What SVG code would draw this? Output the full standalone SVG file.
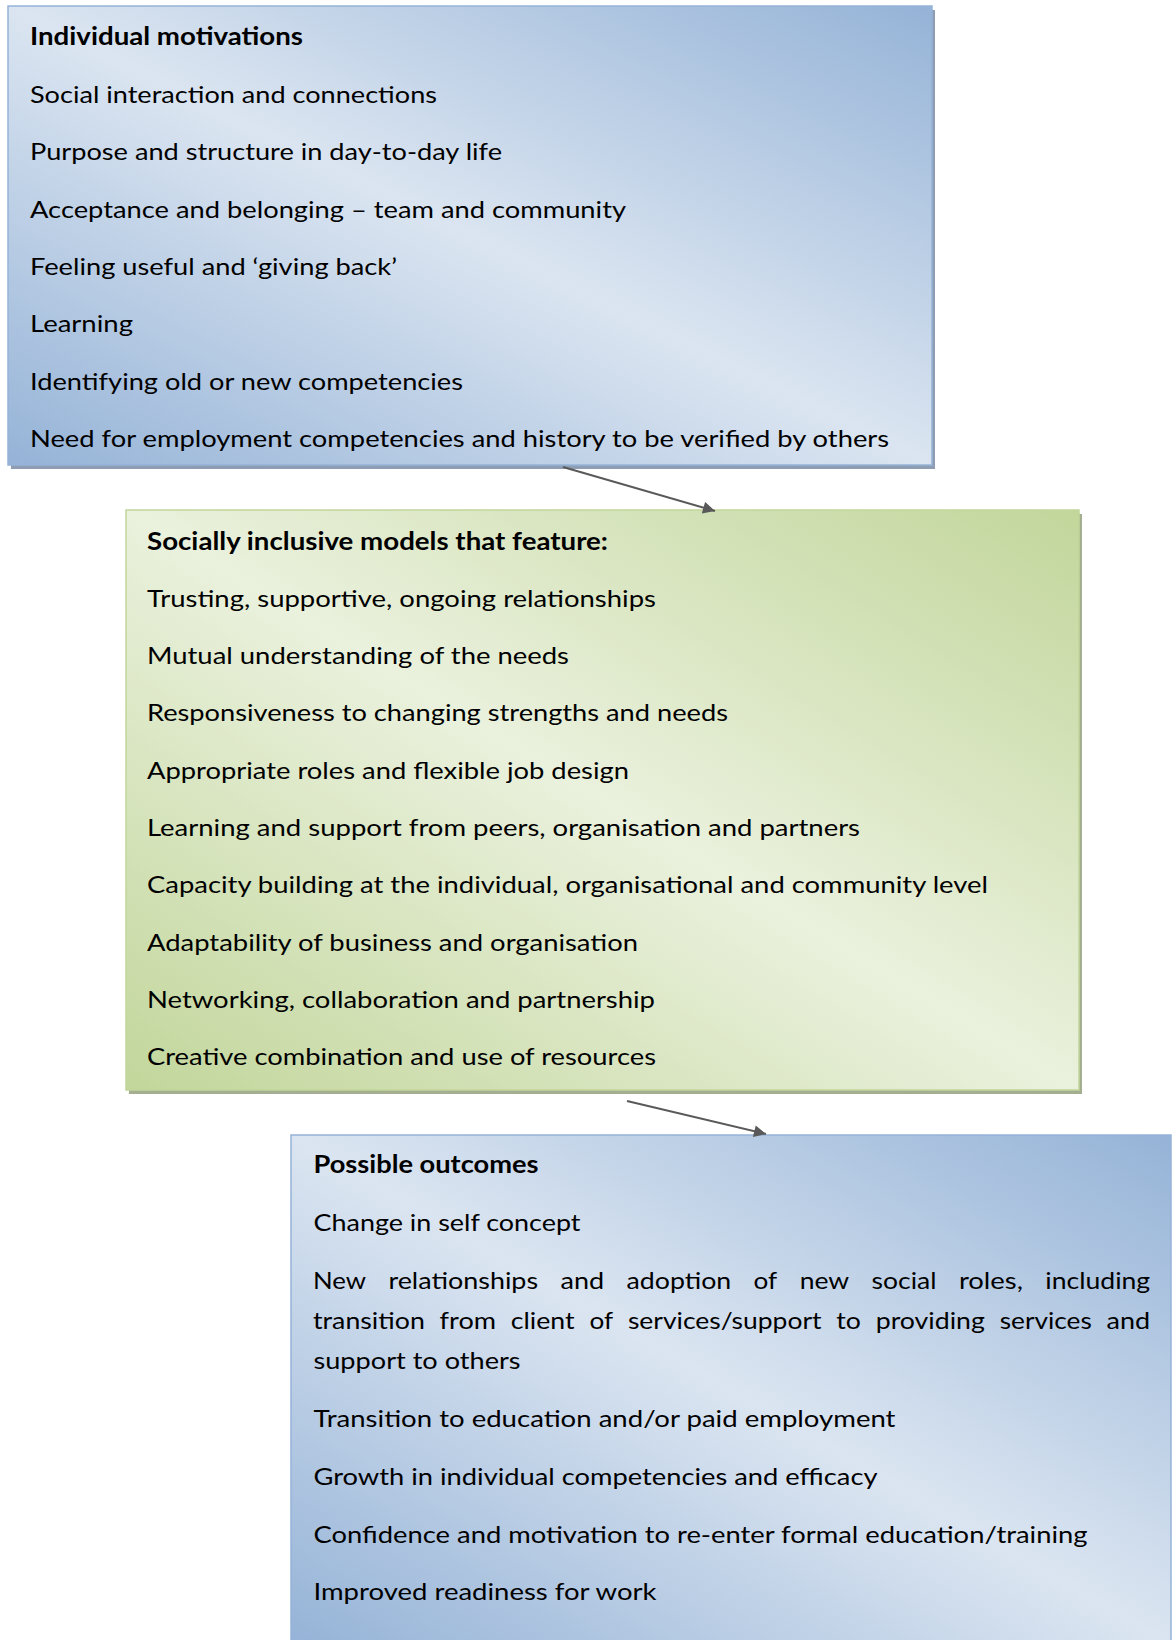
<svg xmlns="http://www.w3.org/2000/svg" width="1172" height="1640" viewBox="0 0 1172 1640">
  <style>
    .t { font-family: Lato, "Open Sans", "Liberation Sans", sans-serif; font-size: 24px; fill: #000; }
    .b { font-weight: 700; }
    .conn { stroke: #595959; stroke-width: 2; fill: none; }
  </style>
  <defs>
    <linearGradient id="gBlue" x1="1" y1="0" x2="0" y2="1">
      <stop offset="0" stop-color="#95b3d7"/>
      <stop offset="0.5" stop-color="#dbe5f1"/>
      <stop offset="1" stop-color="#95b3d7"/>
    </linearGradient>
    <linearGradient id="gGreen" x1="1" y1="0" x2="0" y2="1">
      <stop offset="0" stop-color="#c2d69b"/>
      <stop offset="0.5" stop-color="#eaf1dd"/>
      <stop offset="1" stop-color="#c2d69b"/>
    </linearGradient>
    <marker id="arr" viewBox="0 0 10 10" refX="10" refY="5" markerWidth="7.5" markerHeight="6" orient="auto" markerUnits="strokeWidth">
      <path d="M0,0 L10,5 L0,10 z" fill="#595959"/>
    </marker>
  </defs>

  <g id="node-motivations">
    <rect x="11" y="10" width="924" height="459" fill="#8e9db3"/>
    <rect x="8" y="6" width="924" height="459" fill="url(#gBlue)" stroke="#95b3d7" stroke-width="1.5"/>
    <text class="t b" x="30" y="45" textLength="273" lengthAdjust="spacingAndGlyphs">Individual motivations</text>
    <text class="t" x="30" y="102.5" textLength="407" lengthAdjust="spacingAndGlyphs">Social interaction and connections</text>
    <text class="t" x="30" y="160" textLength="472" lengthAdjust="spacingAndGlyphs">Purpose and structure in day-to-day life</text>
    <text class="t" x="30" y="217.5" textLength="596" lengthAdjust="spacingAndGlyphs">Acceptance and belonging – team and community</text>
    <text class="t" x="30" y="274.5" textLength="367" lengthAdjust="spacingAndGlyphs">Feeling useful and ‘giving back’</text>
    <text class="t" x="30" y="332" textLength="103" lengthAdjust="spacingAndGlyphs">Learning</text>
    <text class="t" x="30" y="389.5" textLength="433" lengthAdjust="spacingAndGlyphs">Identifying old or new competencies</text>
    <text class="t" x="30" y="447" textLength="859" lengthAdjust="spacingAndGlyphs">Need for employment competencies and history to be verified by others</text>
  </g>

  <g id="node-models">
    <rect x="129" y="514" width="953" height="580" fill="#a4ae90"/>
    <rect x="126" y="510" width="953" height="580" fill="url(#gGreen)" stroke="#c2d69b" stroke-width="1.5"/>
    <text class="t b" x="147" y="549.5" textLength="461" lengthAdjust="spacingAndGlyphs">Socially inclusive models that feature:</text>
    <text class="t" x="147" y="606.8" textLength="509" lengthAdjust="spacingAndGlyphs">Trusting, supportive, ongoing relationships</text>
    <text class="t" x="147" y="664.1" textLength="422" lengthAdjust="spacingAndGlyphs">Mutual understanding of the needs</text>
    <text class="t" x="147" y="721.4" textLength="581" lengthAdjust="spacingAndGlyphs">Responsiveness to changing strengths and needs</text>
    <text class="t" x="147" y="778.7" textLength="482" lengthAdjust="spacingAndGlyphs">Appropriate roles and flexible job design</text>
    <text class="t" x="147" y="836" textLength="713" lengthAdjust="spacingAndGlyphs">Learning and support from peers, organisation and partners</text>
    <text class="t" x="147" y="893.3" textLength="841" lengthAdjust="spacingAndGlyphs">Capacity building at the individual, organisational and community level</text>
    <text class="t" x="147" y="950.6" textLength="491" lengthAdjust="spacingAndGlyphs">Adaptability of business and organisation</text>
    <text class="t" x="147" y="1007.9" textLength="508" lengthAdjust="spacingAndGlyphs">Networking, collaboration and partnership</text>
    <text class="t" x="147" y="1065.2" textLength="509" lengthAdjust="spacingAndGlyphs">Creative combination and use of resources</text>
  </g>

  <g id="node-outcomes">
    <rect x="291" y="1135" width="880" height="510" fill="url(#gBlue)" stroke="#95b3d7" stroke-width="1.5"/>
    <text class="t b" x="313.5" y="1173" textLength="225" lengthAdjust="spacingAndGlyphs">Possible outcomes</text>
    <text class="t" x="313.5" y="1230.5" textLength="267" lengthAdjust="spacingAndGlyphs">Change in self concept</text>
    <g>
      <text class="t" x="313" y="1289" textLength="53" lengthAdjust="spacingAndGlyphs">New</text>
      <text class="t" x="388.4" y="1289" textLength="149.7" lengthAdjust="spacingAndGlyphs">relationships</text>
      <text class="t" x="560.5" y="1289" textLength="43.6" lengthAdjust="spacingAndGlyphs">and</text>
      <text class="t" x="626.5" y="1289" textLength="104.7" lengthAdjust="spacingAndGlyphs">adoption</text>
      <text class="t" x="753.6" y="1289" textLength="23.7" lengthAdjust="spacingAndGlyphs">of</text>
      <text class="t" x="799.7" y="1289" textLength="49.5" lengthAdjust="spacingAndGlyphs">new</text>
      <text class="t" x="871.6" y="1289" textLength="64.9" lengthAdjust="spacingAndGlyphs">social</text>
      <text class="t" x="958.9" y="1289" textLength="64" lengthAdjust="spacingAndGlyphs">roles,</text>
      <text class="t" x="1045.3" y="1289" textLength="104.9" lengthAdjust="spacingAndGlyphs">including</text>
    </g>
    <g>
      <text class="t" x="313" y="1329" textLength="111.8" lengthAdjust="spacingAndGlyphs">transition</text>
      <text class="t" x="439.6" y="1329" textLength="56.4" lengthAdjust="spacingAndGlyphs">from</text>
      <text class="t" x="510.8" y="1329" textLength="63.8" lengthAdjust="spacingAndGlyphs">client</text>
      <text class="t" x="589.4" y="1329" textLength="23.7" lengthAdjust="spacingAndGlyphs">of</text>
      <text class="t" x="627.9" y="1329" textLength="193.6" lengthAdjust="spacingAndGlyphs">services/support</text>
      <text class="t" x="836.3" y="1329" textLength="24.6" lengthAdjust="spacingAndGlyphs">to</text>
      <text class="t" x="875.7" y="1329" textLength="109.2" lengthAdjust="spacingAndGlyphs">providing</text>
      <text class="t" x="999.7" y="1329" textLength="92.1" lengthAdjust="spacingAndGlyphs">services</text>
      <text class="t" x="1106.6" y="1329" textLength="43.6" lengthAdjust="spacingAndGlyphs">and</text>
    </g>
    <text class="t" x="313.5" y="1369" textLength="207" lengthAdjust="spacingAndGlyphs">support to others</text>
    <text class="t" x="313.5" y="1427" textLength="582" lengthAdjust="spacingAndGlyphs">Transition to education and/or paid employment</text>
    <text class="t" x="313.5" y="1485" textLength="564" lengthAdjust="spacingAndGlyphs">Growth in individual competencies and efficacy</text>
    <text class="t" x="313.5" y="1543" textLength="774" lengthAdjust="spacingAndGlyphs">Confidence and motivation to re-enter formal education/training</text>
    <text class="t" x="313.5" y="1600" textLength="343" lengthAdjust="spacingAndGlyphs">Improved readiness for work</text>
  </g>

  <g id="connectors">
    <line class="conn" x1="563" y1="467" x2="715" y2="511" marker-end="url(#arr)"/>
    <line class="conn" x1="627" y1="1101" x2="766" y2="1134" marker-end="url(#arr)"/>
  </g>
</svg>
